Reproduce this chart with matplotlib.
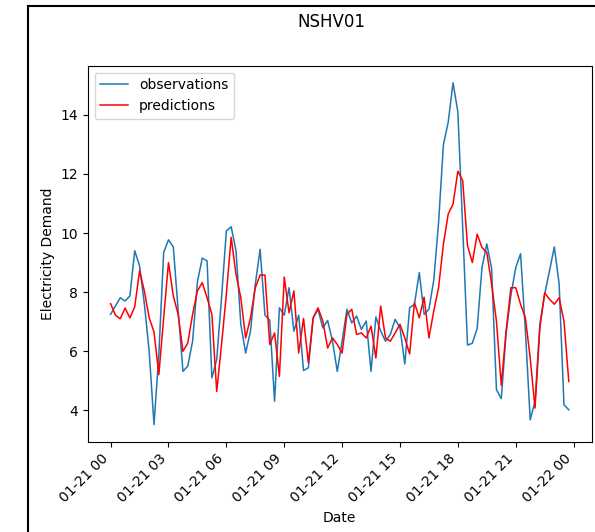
import numpy as np
import pandas as pd
import matplotlib
matplotlib.use('Agg')
import matplotlib.pyplot as plt
import matplotlib.dates as mdates
from matplotlib.lines import Line2D

# 15-minute readings over one day
dates = pd.date_range('2023-01-21 00:00', periods=96, freq='15min')

observations = [
    7.25, 7.53, 7.81, 7.70, 7.87, 9.40, 8.89, 7.60, 6.00, 3.52,
    5.90, 9.34, 9.77, 9.53, 7.40, 5.32, 5.50, 6.34, 8.35, 9.15,
    9.06, 5.10, 5.72, 7.81, 10.07, 10.21, 9.40, 6.91, 5.94, 6.68,
    8.27, 9.45, 7.22, 7.05, 4.31, 7.47, 7.22, 8.15, 6.68, 7.22,
    5.35, 5.44, 7.13, 7.42, 6.79, 7.04, 6.34, 5.32, 6.34, 7.42,
    6.96, 7.19, 6.74, 7.02, 5.32, 7.16, 6.68, 6.34, 6.57, 7.08,
    6.79, 5.57, 7.47, 7.59, 8.66, 7.25, 7.42, 8.40, 10.35, 12.98,
    13.75, 15.08, 14.09, 10.20, 6.21, 6.27, 6.77, 8.83, 9.63, 8.80,
    4.70, 4.40, 6.60, 7.90, 8.83, 9.30, 6.70, 3.68, 4.31, 6.91,
    7.93, 8.72, 9.53, 8.27, 4.19, 4.02,
]

predictions = [
    7.61, 7.22, 7.10, 7.46, 7.13, 7.50, 8.72, 8.04, 7.13, 6.65,
    5.21, 7.13, 9.00, 7.87, 7.25, 6.00, 6.28, 7.25, 8.04, 8.32,
    7.81, 7.25, 4.64, 6.23, 7.93, 9.85, 8.60, 7.81, 6.45, 7.13,
    8.15, 8.58, 8.58, 6.23, 6.62, 5.15, 8.51, 7.30, 8.04, 5.94,
    7.11, 5.61, 7.13, 7.47, 7.02, 6.11, 6.45, 6.23, 5.94, 7.25,
    7.42, 6.57, 6.62, 6.45, 6.85, 5.77, 7.53, 6.45, 6.34, 6.62,
    6.91, 6.45, 5.91, 7.64, 7.13, 7.83, 6.45, 7.36, 8.15, 9.62,
    10.64, 10.98, 12.09, 11.77, 9.57, 9.00, 9.96, 9.51, 9.34, 8.27,
    7.02, 4.85, 6.68, 8.15, 8.15, 7.59, 7.13, 5.77, 4.08, 6.79,
    7.98, 7.76, 7.59, 7.81, 7.02, 4.98,
]

fig = plt.figure(figsize=(5.95, 5.32), dpi=100)
ax = fig.add_axes([87.7/595, 90.3/532, 504/595, 376/532])

ax.plot(dates, observations, color='tab:blue', linewidth=1.1, label='observations')
ax.plot(dates, predictions, color='red', linewidth=1.1, label='predictions')

ax.xaxis.set_major_locator(mdates.HourLocator(byhour=range(0, 24, 3)))
ax.xaxis.set_major_formatter(mdates.DateFormatter('%m-%d %H'))
plt.setp(ax.get_xticklabels(), rotation=45, ha='right')

ax.set_xlabel('Date')
ax.set_ylabel('Electricity Demand')
ax.legend(loc='upper left')

fig.text(331/595, 1 - 22/532, 'NSHV01', ha='center', va='center', fontsize=12)

# figure frame from the screenshot (left and top edges)
fig.add_artist(Line2D([28/595, 28/595], [0, 1 - 6/532], color='black', linewidth=1.5,
                      transform=fig.transFigure))
fig.add_artist(Line2D([28/595, 1], [1 - 6/532, 1 - 6/532], color='black', linewidth=1.5,
                      transform=fig.transFigure))

fig.savefig('out.png', dpi=100)
